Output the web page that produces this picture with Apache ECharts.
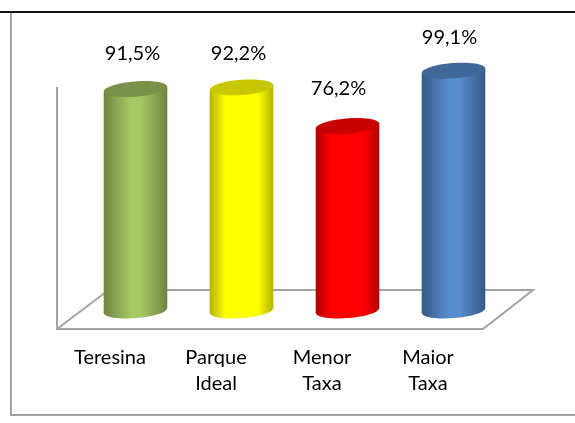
<!DOCTYPE html>
<html>
<head>
<meta charset="utf-8">
<style>
  html, body { margin: 0; padding: 0; background: #fff; }
  #chart { width: 575px; height: 423px; }
</style>
<script src="https://cdn.jsdelivr.net/npm/echarts@6/dist/echarts.min.js"></script>
</head>
<body>
<div id="chart"></div>
<script>
var categories = ['Teresina', 'Parque\nIdeal', 'Menor\nTaxa', 'Maior\nTaxa']
var values = [91.5, 92.2, 76.2, 99.1]

// side gradient edge / middle and lid colour for each cylinder
var edgeColors = ['#6f8340', '#b4b400', '#b40000', '#345a86']
var midColors = ['#a6c964', '#ffff00', '#ff0000', '#5a8dd0']
var lidColors = ['#7b9149', '#c8c800', '#c80000', '#3f6797']
// how far from the edge the side reaches its middle colour
var midStart = [0.42, 0.25, 0.25, 0.42]
// value labels do not sit quite centred on the bars in the original
var labelNudgeX = [-3, -3, -9, -4]
var labelNudgeY = [-36, -34, -38, -33]

var lineGray = '#a3a3a3'
var font = 'Lato'

function renderCylinder(params, api) {
  var i = api.value(0)
  var top = api.coord([i, api.value(1)])
  var base = api.coord([i, 0])
  var rx = api.size([1, 0])[0] * 0.3
  var ry = 7.6
  var tilt = 2.5
  var rotation = 4.5 * Math.PI / 180
  var x0 = top[0] - rx
  var x1 = top[0] + rx
  var sideFill = {
    type: 'linear', x: 0, y: 0, x2: 1, y2: 0,
    colorStops: [
      { offset: 0, color: edgeColors[i] },
      { offset: midStart[i], color: midColors[i] },
      { offset: 1 - midStart[i], color: midColors[i] },
      { offset: 1, color: edgeColors[i] }
    ]
  }
  return {
    type: 'group',
    children: [
      {
        type: 'ellipse',
        shape: { cx: base[0], cy: base[1], rx: rx, ry: ry },
        rotation: rotation,
        originX: base[0],
        originY: base[1],
        style: { fill: sideFill }
      },
      {
        type: 'polygon',
        shape: {
          points: [
            [x0, top[1] + tilt],
            [x1, top[1] - tilt],
            [x1, base[1] - tilt],
            [x0, base[1] + tilt]
          ]
        },
        style: { fill: sideFill }
      },
      {
        type: 'ellipse',
        shape: { cx: top[0], cy: top[1], rx: rx, ry: ry },
        rotation: rotation,
        originX: top[0],
        originY: top[1],
        style: { fill: lidColors[i] }
      },
      {
        type: 'text',
        style: {
          text: String(api.value(1)).replace('.', ',') + '%',
          x: top[0] + labelNudgeX[i],
          y: top[1] + labelNudgeY[i],
          align: 'center',
          verticalAlign: 'middle',
          fill: '#000',
          font: '20px "' + font + '"'
        }
      }
    ]
  }
}

var chart = echarts.init(document.getElementById('chart'))
chart.setOption({
  animation: false,
  backgroundColor: '#fff',
  grid: { left: 82.5, width: 424, top: 68.5, height: 242 },
  xAxis: {
    type: 'category',
    data: categories,
    axisLine: { show: false },
    axisTick: { show: false },
    axisLabel: {
      interval: 0,
      margin: 34,
      padding: [0, 51, 0, 0],
      color: '#000',
      fontFamily: font,
      fontSize: 20,
      lineHeight: 26
    }
  },
  yAxis: { type: 'value', min: 0, max: 100, interval: 20, show: false },
  graphic: [
    // chart frame
    { type: 'line', shape: { x1: 0, y1: 12, x2: 575, y2: 12 }, style: { stroke: '#111', lineWidth: 2 } },
    { type: 'polyline', shape: { points: [[11, 13], [11, 415], [575, 415]] }, style: { stroke: lineGray, lineWidth: 2, fill: null } },
    // back wall and floor
    { type: 'polyline', shape: { points: [[57, 87], [57, 329], [483, 329], [533, 290], [105, 290]] }, style: { stroke: lineGray, lineWidth: 2, fill: null } },
    { type: 'line', shape: { x1: 57, y1: 329, x2: 106, y2: 292 }, style: { stroke: lineGray, lineWidth: 2 } }
  ],
  series: [
    {
      type: 'custom',
      renderItem: renderCylinder,
      data: values.map(function (v, i) { return [i, v] }),
      encode: { x: 0, y: 1 },
      z: 5
    }
  ]
})
</script>
</body>
</html>
